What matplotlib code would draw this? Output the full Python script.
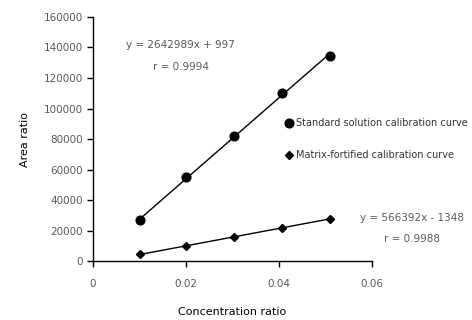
import matplotlib
matplotlib.use("Agg")
import matplotlib.pyplot as plt
import numpy as np

# calibration data
conc = [0.0102, 0.0201, 0.0304, 0.0407, 0.0509]
std_area = [26700, 54800, 82300, 110300, 134300]
mat_area = [4800, 9700, 15700, 21900, 27800]

std_eq = "y = 2642989x + 997"
std_r = "r = 0.9994"
mat_eq = "y = 566392x - 1348"
mat_r = "r = 0.9988"

plt.rcParams['font.family'] = ['DejaVu Sans']
fig = plt.figure(figsize=(4.72, 3.2), dpi=100)
ax = fig.add_axes([0.197, 0.184, 0.591, 0.763])

gray = '#595959'
x_fit = np.array([conc[0], conc[-1]])

# trendlines
for ys in (std_area, mat_area):
    k, b = np.polyfit(conc, ys, 1)
    ax.plot(x_fit, k * x_fit + b, color='black', lw=1.0, zorder=2)

ax.plot(conc, std_area, 'o', color='black', ms=6.3, ls='none',
        label='Standard solution calibration curve', zorder=3)
ax.plot(conc, mat_area, 'D', color='black', ms=4.3, ls='none',
        label='Matrix-fortified calibration curve', zorder=3)

ax.set_xlim(0, 0.06)
ax.set_ylim(0, 160000)
ax.set_xticks([0, 0.02, 0.04, 0.06])
ax.set_xticklabels(['0', '0.02', '0.04', '0.06'])
ax.set_yticks(range(0, 160001, 20000))

for s in ['top', 'right']:
    ax.spines[s].set_visible(False)
for s in ['left', 'bottom']:
    ax.spines[s].set_color('black')
    ax.spines[s].set_linewidth(1.0)
ax.tick_params(axis='both', direction='out', length=4, width=1.0,
               colors='black', labelcolor=gray, labelsize=7.5)
ax.tick_params(axis='x', pad=9)
ax.tick_params(axis='y', pad=3)

ax.set_xlabel('Concentration ratio', fontsize=8, labelpad=13)
ax.set_ylabel('Area ratio', fontsize=8, labelpad=10)

ax.text(0.0189, 141500, std_eq, ha='center', va='center', fontsize=7.5, color=gray)
ax.text(0.0189, 127500, std_r, ha='center', va='center', fontsize=7.5, color=gray)
ax.text(0.0686, 28000, mat_eq, ha='center', va='center', fontsize=7.5, color=gray, clip_on=False)
ax.text(0.0686, 14200, mat_r, ha='center', va='center', fontsize=7.5, color=gray, clip_on=False)

ax.legend(loc='upper left', bbox_to_anchor=(0.677, 0.601), frameon=False,
          fontsize=7, labelcolor='#333333', handlelength=0.6, handletextpad=0.45,
          labelspacing=2.25, borderaxespad=0)

fig.savefig('out.png', dpi=100)
